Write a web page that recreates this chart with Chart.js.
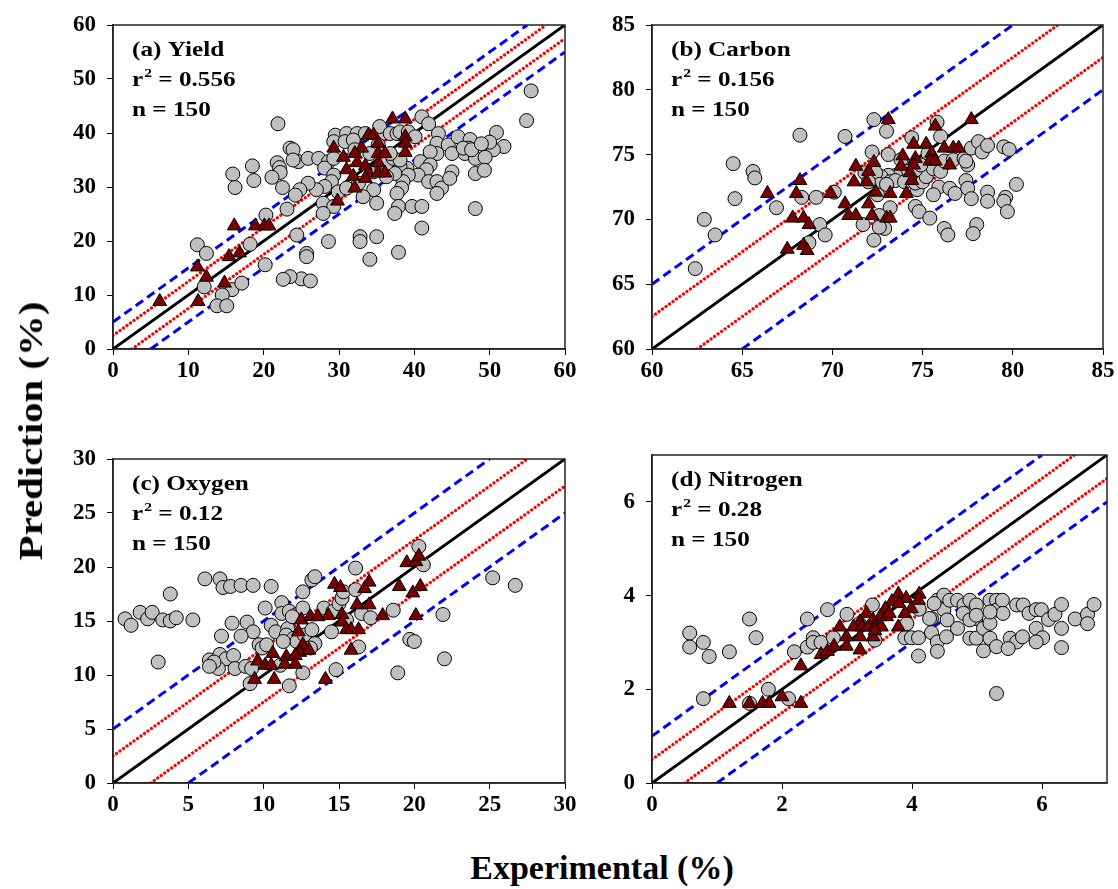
<!DOCTYPE html>
<html>
<head>
<meta charset="utf-8">
<script src="https://cdn.jsdelivr.net/npm/chart.js@4"></script>
<style>
    html, body { margin: 0; padding: 0; background: #fff; overflow: hidden; }
    #fig { position: relative; width: 1118px; height: 889px; overflow: hidden; }
    #fig canvas { position: absolute; }
    .axis-title {
        position: absolute;
        font-family: 'Liberation Serif', 'Times New Roman', serif;
        font-weight: bold;
        font-size: 34px;
        color: #000;
        white-space: nowrap;
    }
    #ylab { left: 31px; top: 431px; transform: translate(-50%, -50%) rotate(-90deg) scaleX(1.2); }
    #xlab { left: 602px; top: 868px; transform: translate(-50%, -50%); }
</style>
</head>
<body>
<div id="fig">
    <canvas id="yieldChart"></canvas>
    <canvas id="carbonChart"></canvas>
    <canvas id="oxygenChart"></canvas>
    <canvas id="nitrogenChart"></canvas>
    <div class="axis-title" id="ylab">Prediction (%)</div>
    <div class="axis-title" id="xlab">Experimental (%)</div>
</div>
<script>
// ---- (a) Yield ----
const yieldTrain = [
    [23.5,37.2],[23.9,36.9],[24.6,34.7],[23.9,35.0],[25.9,35.3],[27.3,35.3],[28.6,34.7],[28.1,33.5],[29.3,35.3],[29.5,39.6],
    [31.0,39.9],[32.4,39.9],[29.3,38.4],[30.8,38.4],[31.9,38.7],[32.1,36.9],[33.5,39.9],[35.7,39.9],[35.4,41.2],[36.8,39.9],
    [37.7,39.9],[38.1,40.2],[39.2,40.2],[40.1,39.3],[41.0,43.0],[41.9,41.7],[43.2,39.9],[43.0,38.1],[44.5,37.8],[45.8,39.3],
    [47.4,38.8],[47.2,37.2],[46.7,36.2],[48.1,35.3],[45.0,36.2],[43.0,36.2],[42.1,36.5],[40.8,34.7],[42.1,34.1],[41.6,33.2],
    [40.5,32.2],[41.9,31.0],[43.0,31.0],[43.6,29.8],[43.0,28.8],[45.0,32.8],[44.7,31.6],[48.1,32.5],[39.0,33.5],[38.1,33.8],
    [39.2,32.2],[38.5,31.0],[38.3,29.8],[37.7,28.8],[37.4,32.5],[36.3,31.9],[34.6,29.5],[33.2,28.2],[35.0,27.0],[37.9,26.4],
    [37.4,25.1],[39.7,26.4],[41.0,26.4],[41.0,22.4],[35.0,20.8],[32.8,20.8],[32.8,19.9],[28.6,19.9],[24.4,21.1],[25.7,17.7],
    [25.7,17.1],[34.1,16.6],[37.9,17.9],[25.0,13.0],[26.2,12.6],[23.5,13.4],[48.1,26.0],[29.3,32.2],[29.0,31.0],[28.1,30.1],
    [27.0,29.5],[25.9,30.7],[24.8,29.5],[24.2,28.5],[27.9,27.0],[29.3,26.4],[29.9,29.1],[31.0,29.8],[32.6,30.7],[34.6,32.8],
    [35.7,33.5],[36.3,34.4],[37.2,35.3],[38.1,35.0],[36.8,36.2],[35.2,37.8],[34.1,36.2],[27.9,25.1],[46.5,37.2],[47.6,36.9],
    [21.9,41.7],[18.5,33.9],[18.7,31.2],[15.9,32.4],[16.2,29.9],[21.8,34.5],[22.1,33.6],[22.2,32.7],[21.1,31.8],[22.5,29.9],
    [20.3,24.8],[23.1,25.9],[11.2,19.3],[12.4,17.7],[18.2,19.4],[20.2,15.6],[12.1,11.5],[15.8,11.0],[14.5,10.0],[17.1,12.2],
    [13.8,8.0],[15.1,8.0],[22.6,12.9],[55.5,47.8],[54.9,42.3],[50.9,40.1],[51.9,37.5],[50.5,36.9],[50.0,38.3],[48.9,38.0],
    [49.4,35.5],[49.3,33.1]
];
const yieldTest = [
    [37.1,42.6],[38.8,42.6],[33.9,39.6],[34.6,39.6],[38.8,39.3],[38.8,38.1],[35.2,38.1],[29.3,37.2],[33.0,37.2],[38.8,36.4],
    [35.2,36.2],[36.1,36.2],[32.1,36.2],[30.6,35.5],[32.4,34.5],[35.2,34.5],[33.5,33.9],[31.0,33.2],[33.9,32.6],[35.2,32.6],
    [36.1,32.6],[31.9,32.0],[33.5,31.6],[32.1,29.8],[29.8,27.4],[6.2,8.8],[11.2,15.2],[11.3,8.8],[12.4,13.3],[14.8,12.2],
    [15.4,17.1],[16.8,17.8],[16.1,22.8],[18.9,22.8],[20.1,22.8],[20.7,22.8]
];

// ---- (b) Carbon ----
const carbonTrain = [
    [62.4,66.2],[62.9,70.0],[63.5,68.8],[64.5,74.3],[64.6,71.6],[65.6,73.7],[65.7,73.2],[66.9,70.9],
    [68.2,76.5],[70.7,76.4],[72.3,77.7],[73.0,76.8],[75.8,77.5],[76.0,76.4],[74.4,76.3],[72.2,75.2],[73.1,75.0],[73.8,74.6],
    [75.3,75.1],[75.0,73.9],[74.8,73.4],[74.1,73.7],[73.5,73.4],[73.1,73.4],[72.7,73.3],[72.4,73.6],[71.8,73.6],[72.6,72.7],
    [73.2,72.9],[73.5,73.0],[73.0,72.7],[74.0,72.9],[74.7,72.3],[74.6,72.8],[75.0,72.9],[75.2,73.3],[75.6,73.9],[76.0,73.7],
    [76.2,74.5],[76.7,74.6],[77.3,74.7],[77.5,74.2],[77.4,74.5],[77.7,75.5],[78.1,76.0],[78.3,75.2],[78.6,75.7],[75.9,72.5],
    [76.5,72.4],[76.8,72.0],[75.6,71.9],[77.4,73.0],[77.5,72.4],[77.7,71.6],[78.6,72.1],[78.6,71.4],[74.6,71.0],[74.8,70.6],
    [75.4,70.1],[73.2,70.9],[72.6,70.3],[72.9,69.3],[72.6,69.4],[71.7,69.6],[72.3,68.4],[72.5,71.9],[72.0,72.9],[70.1,72.1],
    [69.1,71.7],[68.3,71.7],[69.3,69.6],[69.6,68.8],[68.7,68.2],[76.2,69.3],[76.4,68.8],[78.0,69.6],[77.8,68.9],[74.6,73.8],
    [74.9,74.2],[79.5,75.6],[79.8,75.4],[80.2,72.7],[79.6,71.7],[79.5,71.4],[79.7,70.6]
];
const carbonTest = [
    [66.4,72.0],[68.2,73.0],[68.0,72.0],[67.8,70.1],[68.4,70.1],[68.7,69.6],[67.5,67.7],[68.4,68.0],[68.6,67.6],[69.9,72.0],
    [73.1,77.7],[75.7,77.2],[77.7,77.7],[74.5,75.8],[75.2,75.8],[76.2,75.5],[76.7,75.5],[77.0,75.5],[73.9,74.9],[74.6,74.7],
    [75.5,75.1],[71.3,74.1],[72.3,74.4],[73.8,74.1],[74.5,74.2],[75.4,74.5],[75.7,74.5],[76.5,74.2],[72.0,73.7],[74.3,73.6],
    [71.2,72.9],[71.9,72.9],[74.4,73.0],[72.4,72.1],[73.2,72.0],[74.1,72.0],[70.7,71.2],[72.0,71.2],[70.9,70.3],[71.3,70.3],
    [72.2,70.3],[73.0,70.1],[73.2,70.1]
];

// ---- (c) Oxygen ----
const oxygenTrain = [
    [0.8,15.2],[1.2,14.6],[1.8,15.8],[2.3,15.2],[2.6,15.8],[3.3,15.1],[3.8,15.0],[4.2,15.3],[3.8,17.5],[3.0,11.2],
    [6.1,18.9],[7.1,18.9],[7.3,18.1],[7.8,18.2],[8.5,18.3],[9.3,18.3],[10.5,18.2],[13.2,18.8],[13.4,19.1],
    [12.6,17.7],[10.1,16.2],[11.2,16.7],[11.2,15.7],[11.7,15.9],[12.2,15.6],[12.6,16.2],[14.0,16.2],[14.6,15.9],[15.0,16.6],
    [15.2,17.1],[15.3,17.7],[16.1,17.9],[7.9,14.8],[8.9,14.9],[9.3,14.0],[8.5,13.6],[7.2,13.6],[5.3,15.1],[9.7,12.8],
    [9.9,12.5],[10.5,14.6],[10.8,14.0],[11.6,14.3],[11.5,13.7],[12.0,13.4],[12.2,13.1],[12.7,13.7],[13.2,14.2],[13.4,12.9],
    [13.1,12.5],[14.5,14.0],[15.5,15.1],[16.5,15.7],[17.1,15.3],[18.6,16.0],[6.4,11.4],[7.1,11.9],[7.5,11.5],[8.0,11.8],
    [7.0,10.6],[8.1,10.6],[8.8,10.8],[9.2,10.6],[9.1,9.2],[11.7,9.0],[12.6,10.2],[14.8,10.5],[16.3,12.6],[18.9,10.2],
    [19.7,13.3],[20.0,13.1],[11.1,10.9],[10.2,12.8],[6.7,11.2],[6.4,10.8],[11.3,13.1],[11.9,15.4],
    [20.3,21.9],[20.6,20.2],[16.1,19.9],[25.2,19.0],[26.7,18.3],[21.9,15.6],[22.0,11.5]
];
const oxygenTest = [
    [14.7,18.4],[15.1,18.1],[17.0,18.6],[16.7,18.0],[19.0,18.2],[19.9,17.6],[20.4,18.2],[16.2,16.5],[17.0,16.5],[12.5,15.1],
    [13.1,15.4],[13.6,15.4],[14.3,15.5],[15.2,15.6],[15.2,14.9],[17.9,15.5],[20.1,15.5],[15.5,14.2],[15.8,14.2],[16.3,14.2],
    [12.3,14.0],[12.6,12.8],[12.4,12.1],[13.0,12.3],[10.6,12.0],[11.5,11.7],[12.1,11.8],[9.6,11.3],[10.1,10.9],[10.5,10.9],
    [11.4,11.0],[12.1,11.0],[9.4,9.6],[10.7,9.6],[14.1,9.6],[15.8,12.3],[19.5,20.4],[20.1,20.5],[20.3,21.0]
];

// ---- (d) Nitrogen ----
const nitrogenTrain = [
    [0.58,3.2],[0.58,2.9],[0.79,3.0],[0.88,2.7],[1.19,2.8],[1.50,3.5],[1.60,3.1],[0.79,1.8],[1.79,2.0],[2.10,1.8],
    [1.50,1.7],[2.19,2.8],[2.39,3.5],[2.39,2.9],[2.48,3.1],[2.48,3.0],[2.60,3.0],[2.70,3.7],[2.79,3.1],[3.00,3.6],
    [3.19,3.4],[3.39,3.8],[3.43,3.05],[3.89,3.10],[3.99,3.10],[4.10,3.10],[4.10,2.71],[4.30,3.51],[4.30,3.21],[4.39,3.01],
    [4.39,2.81],[3.92,3.40],[4.11,3.71],[4.39,3.90],[4.49,4.01],[4.49,3.70],[4.58,3.90],[4.70,3.90],[4.80,3.80],[4.79,3.62],
    [4.89,3.90],[4.99,3.80],[4.98,3.51],[4.89,3.48],[4.89,3.09],[4.99,3.09],[5.10,2.82],[5.10,3.30],[5.20,3.41],[5.20,3.90],
    [5.30,3.90],[5.30,3.69],[5.20,3.09],[5.30,2.91],[5.39,3.90],[5.40,3.62],[5.51,3.09],[5.61,3.01],[5.61,3.80],[5.71,3.80],
    [5.70,3.12],[5.80,3.62],[5.91,3.70],[5.91,3.30],[5.99,3.70],[6.01,3.10],[5.91,3.01],[6.10,3.49],[6.20,3.60],[6.30,3.81],
    [6.30,3.30],[6.30,2.89],[6.51,3.50],[6.70,3.60],[6.70,3.40],[6.80,3.81],[4.70,3.30],[4.54,3.48],[4.53,3.12],[5.30,1.91],
    [4.34,3.83],[4.27,3.51],[5.48,2.87],[4.99,3.58],[5.20,3.65]
];
const nitrogenTest = [
    [1.19,1.7],[1.50,1.7],[1.70,1.7],[1.80,1.7],[2.00,1.84],[2.29,1.7],[2.29,2.5],[2.60,2.74],[2.70,2.81],[2.80,2.92],
    [3.79,4.03],[4.11,4.03],[3.91,3.94],[3.69,3.87],[3.80,3.83],[3.99,3.72],[3.89,3.62],[3.59,3.72],[3.51,3.55],[3.61,3.55],
    [3.30,3.62],[3.40,3.48],[3.20,3.44],[3.10,3.33],[3.23,3.33],[3.33,3.33],[3.43,3.33],[3.53,3.33],[2.99,3.12],[3.20,3.12],
    [3.40,3.12],[3.79,3.33],[2.99,2.92],[3.20,2.84],[2.89,3.33],[3.65,3.62],[4.10,3.90],[3.43,3.25]
];

// Axis ranges / tick steps and the +/- band offsets around the 1:1 line
const yieldAxis = { min: 0, max: 60, step: 10 };
const carbonAxis = { min: 60, max: 85, step: 5 };
const oxygenAxis = { min: 0, max: 30, step: 5 };
const nitrogenAxis = { min: 0, max: 7, step: 2 };
const yieldBands = [5, 2.5];
const carbonBands = [5, 2.5];
const oxygenBands = [5, 2.5];
const nitrogenBands = [1, 0.5];

const FONT = "'Liberation Serif', 'Times New Roman', serif";
const GRAY = '#c0c0c0';
const MAROON = '#7a0000';
// padding wide enough that tick label overhang never moves the plot area
const PAD = { left: 85, top: 30, right: 22, bottom: 45 };
const TEXT_STRETCH = 1.2;

// text drawn a little wider than the font's natural width
function wideText(ctx, text, x, y, font) {
    ctx.font = font;
    ctx.save();
    ctx.translate(x, y);
    ctx.scale(TEXT_STRETCH, 1);
    ctx.fillText(text, 0, 0);
    ctx.restore();
    return ctx.measureText(text).width * TEXT_STRETCH;
}

// draws the closing frame plus the label block in the top-left corner
const panelDecor = {
    id: 'panelDecor',
    afterDraw(chart, args, opts) {
        const { ctx, chartArea: a } = chart;
        ctx.save();
        ctx.strokeStyle = '#222';
        ctx.lineWidth = 1.5;
        ctx.strokeRect(a.left, a.top, a.right - a.left, a.bottom - a.top);

        ctx.fillStyle = '#000';
        ctx.textBaseline = 'alphabetic';
        const x = a.left + 19;
        const big = `bold 21px ${FONT}`;
        const sup = `bold 13px ${FONT}`;
        wideText(ctx, opts.label, x, a.top + 31, big);
        // r with superscript 2
        let cx = x + wideText(ctx, 'r', x, a.top + 61, big) + 1;
        cx += wideText(ctx, '2', cx, a.top + 52, sup);
        wideText(ctx, ' = ' + opts.r2, cx, a.top + 61, big);
        wideText(ctx, 'n = ' + opts.n, x, a.top + 91, big);
        ctx.restore();
    }
};

function bandLine(x1, y1, x2, y2, color, width, dash) {
    return {
        type: 'line',
        data: [{ x: x1, y: y1 }, { x: x2, y: y2 }],
        borderColor: color,
        borderWidth: width,
        borderDash: dash,
        borderCapStyle: dash.length && dash[0] < 1 ? 'round' : 'butt',
        pointRadius: 0,
        fill: false,
        order: 2
    };
}

function axisOpts(ax, isX) {
    return {
        type: 'linear',
        min: ax.min,
        max: ax.max,
        afterBuildTicks: (scale) => {
            scale.ticks = scale.ticks.filter(t => Math.abs((t.value - ax.min) / ax.step - Math.round((t.value - ax.min) / ax.step)) < 1e-6);
        },
        afterFit: (scale) => {
            if (isX) scale.height = PAD.bottom; else scale.width = PAD.left;
        },
        ticks: {
            stepSize: ax.step,
            color: '#000',
            font: { family: FONT, weight: 'bold', size: 23 },
            padding: isX ? 2 : 11,
            maxRotation: 0,
            autoSkip: false
        },
        grid: { display: true, drawOnChartArea: false, drawTicks: true, tickLength: 6, color: '#000', lineWidth: 1 },
        border: { display: true, color: '#222', width: 1.5 }
    };
}

function makePanel(id, area, ax, bands, train, test, info) {
    const canvas = document.getElementById(id);
    const w = area.r - area.l + PAD.left + PAD.right;
    const h = area.b - area.t + PAD.top + PAD.bottom;
    canvas.width = w;
    canvas.height = h;
    canvas.style.left = (area.l - PAD.left) + 'px';
    canvas.style.top = (area.t - PAD.top) + 'px';
    canvas.style.width = w + 'px';
    canvas.style.height = h + 'px';

    const lo = ax.min, hi = ax.max;
    const [outer, inner] = bands;
    const dashed = [9, 5];
    const dotted = [0.1, 4.2];

    const datasets = [
        {
            label: 'test',
            data: test.map(([x, y]) => ({ x, y })),
            pointStyle: 'triangle',
            pointRadius: 8,
            backgroundColor: MAROON,
            borderColor: '#000',
            borderWidth: 1,
            order: 0
        },
        {
            label: 'train',
            data: train.map(([x, y]) => ({ x, y })),
            pointStyle: 'circle',
            pointRadius: 7,
            backgroundColor: GRAY,
            borderColor: '#000',
            borderWidth: 1,
            order: 1
        },
        bandLine(lo, lo, hi, hi, '#000', 3, []),
        bandLine(lo, lo + inner, hi - inner, hi, '#ff0000', 3.2, dotted),
        bandLine(lo + inner, lo, hi, hi - inner, '#ff0000', 3.2, dotted),
        bandLine(lo, lo + outer, hi - outer, hi, '#0000ff', 3, dashed),
        bandLine(lo + outer, lo, hi, hi - outer, '#0000ff', 3, dashed)
    ];

    new Chart(canvas.getContext('2d'), {
        type: 'scatter',
        data: { datasets },
        options: {
            responsive: false,
            animation: false,
            devicePixelRatio: 1,
            layout: { padding: { left: 0, top: PAD.top, right: PAD.right, bottom: 0 } },
            plugins: {
                legend: { display: false },
                tooltip: { enabled: false },
                panelDecor: info
            },
            scales: {
                x: axisOpts(ax, true),
                y: axisOpts(ax, false)
            }
        },
        plugins: [panelDecor]
    });
}

makePanel('yieldChart', { l: 113, t: 25, r: 565, b: 349 }, yieldAxis, yieldBands, yieldTrain, yieldTest,
    { label: '(a) Yield', r2: '0.556', n: 150 });
makePanel('carbonChart', { l: 652, t: 25, r: 1103, b: 349 }, carbonAxis, carbonBands, carbonTrain, carbonTest,
    { label: '(b) Carbon', r2: '0.156', n: 150 });
makePanel('oxygenChart', { l: 113, t: 459, r: 565, b: 783 }, oxygenAxis, oxygenBands, oxygenTrain, oxygenTest,
    { label: '(c) Oxygen', r2: '0.12', n: 150 });
makePanel('nitrogenChart', { l: 652, t: 455, r: 1107, b: 783 }, nitrogenAxis, nitrogenBands, nitrogenTrain, nitrogenTest,
    { label: '(d) Nitrogen', r2: '0.28', n: 150 });
</script>
</body>
</html>
